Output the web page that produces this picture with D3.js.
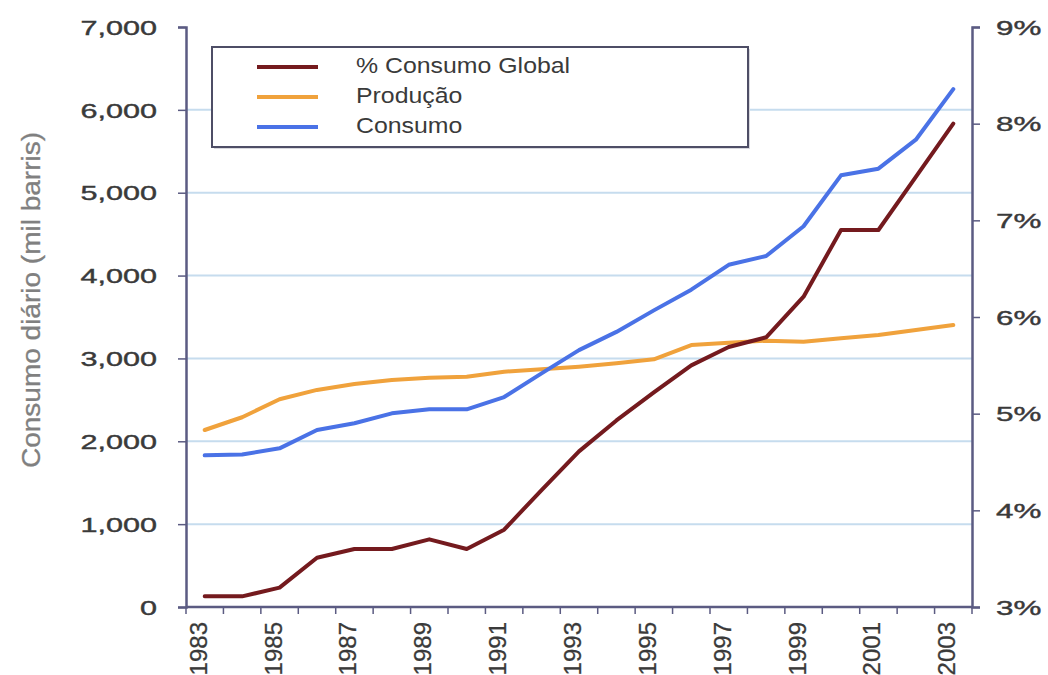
<!DOCTYPE html>
<html>
<head>
<meta charset="utf-8">
<script src="https://cdn.jsdelivr.net/npm/d3@7"></script>
<style>
  html, body { margin: 0; padding: 0; background: #fff; }
  svg { display: block; font-family: "Liberation Sans", Arial, sans-serif; }
</style>
</head>
<body>
<svg id="chart" width="1048" height="675"></svg>
<script>
// Years on the category axis
const years = [1983, 1984, 1985, 1986, 1987, 1988, 1989, 1990, 1991, 1992, 1993,
               1994, 1995, 1996, 1997, 1998, 1999, 2000, 2001, 2002, 2003];

// Daily consumption and production (thousand barrels), left axis
const consumo = [1830, 1840, 1915, 2136, 2217, 2337, 2386, 2386, 2534, 2820, 3100,
                 3320, 3580, 3830, 4130, 4236, 4595, 5210, 5290, 5640, 6250];
const producao = [2136, 2290, 2507, 2620, 2691, 2740, 2767, 2780, 2840, 2869, 2900,
                  2941, 2990, 3162, 3190, 3214, 3202, 3243, 3283, 3343, 3403];

// Share of world consumption (%), right axis
const pctGlobal = [3.11, 3.11, 3.20, 3.51, 3.60, 3.60, 3.70, 3.60, 3.80, 4.21, 4.61,
                   4.93, 5.22, 5.50, 5.69, 5.79, 6.21, 6.90, 6.90, 7.45, 8.00];

// Axis ticks
const leftTicks = [0, 1000, 2000, 3000, 4000, 5000, 6000, 7000];
const rightTicks = [3, 4, 5, 6, 7, 8, 9];
const yearLabels = years.filter(y => y % 2 === 1);

const seriesNames = ["% Consumo Global", "Produção", "Consumo"];
const seriesColors = ["#741a1e", "#f0a23c", "#4a72e6"];

const svg = d3.select("#chart");
const plot = { left: 186, right: 972, top: 27, bottom: 607 };

const x = d3.scaleBand().domain(years).range([plot.left, plot.right]).padding(0);
const yL = d3.scaleLinear().domain([0, 7000]).range([plot.bottom, plot.top]);
const yR = d3.scaleLinear().domain([3, 9]).range([plot.bottom, plot.top]);
const cx = d => x(d) + x.bandwidth() / 2;

const axisColor = "#5b5b82";
const textColor = "#3a3a3a";

// Horizontal gridlines
svg.append("g")
  .selectAll("line")
  .data(leftTicks.filter(t => t > 0 && t < 7000))
  .join("line")
  .attr("x1", plot.left).attr("x2", plot.right)
  .attr("y1", d => yL(d)).attr("y2", d => yL(d))
  .attr("stroke", "#c6dcee").attr("stroke-width", 2);

// Left axis
const gL = svg.append("g").attr("transform", `translate(${plot.left},0)`)
  .call(d3.axisLeft(yL).tickValues(leftTicks).tickSize(8).tickFormat(d3.format(",")));
gL.select(".domain").attr("stroke", axisColor).attr("stroke-width", 2.5);
gL.selectAll(".tick line").attr("stroke", axisColor).attr("stroke-width", 1.5);
gL.selectAll(".tick text")
  .attr("x", 0).attr("dy", "0.36em")
  .attr("font-size", 20).attr("fill", textColor)
  .attr("stroke", textColor).attr("stroke-width", 0.4)
  .attr("text-anchor", "end")
  .attr("transform", "translate(-29,0) scale(1.53,1)");

// Right axis
const gR = svg.append("g").attr("transform", `translate(${plot.right},0)`)
  .call(d3.axisRight(yR).tickValues(rightTicks).tickSize(8).tickFormat(d => d + "%"));
gR.select(".domain").attr("stroke", axisColor).attr("stroke-width", 2.5);
gR.selectAll(".tick line").attr("stroke", axisColor).attr("stroke-width", 1.5);
gR.selectAll(".tick text")
  .attr("x", 0).attr("dy", "0.36em")
  .attr("font-size", 20).attr("fill", textColor)
  .attr("stroke", textColor).attr("stroke-width", 0.4)
  .attr("text-anchor", "start")
  .attr("transform", "translate(24,0) scale(1.57,1)");

// Bottom axis: tick marks at category boundaries, labels every other year
const gB = svg.append("g").attr("transform", `translate(0,${plot.bottom})`);
gB.append("line")
  .attr("x1", plot.left).attr("x2", plot.right)
  .attr("stroke", axisColor).attr("stroke-width", 2.5);
gB.selectAll("line.tick")
  .data(years.map(d => x(d)).concat([plot.right]))
  .join("line").attr("class", "tick")
  .attr("x1", d => d).attr("x2", d => d)
  .attr("y1", 0).attr("y2", 7)
  .attr("stroke", axisColor).attr("stroke-width", 1.5);
gB.selectAll("text")
  .data(yearLabels)
  .join("text")
  .attr("transform", d => `translate(${cx(d) + 2},15) rotate(-90)`)
  .attr("text-anchor", "end")
  .attr("font-size", 24)
  .attr("fill", textColor)
  .attr("stroke", textColor).attr("stroke-width", 0.3)
  .text(d => d);

// Y axis title
svg.append("text")
  .attr("transform", "translate(40,300) rotate(-90)")
  .attr("text-anchor", "middle")
  .attr("font-size", 25)
  .attr("fill", "#808080")
  .attr("stroke", "#808080").attr("stroke-width", 0.3)
  .attr("textLength", 336)
  .attr("lengthAdjust", "spacingAndGlyphs")
  .text("Consumo diário (mil barris)");

// Series lines
const lineL = d3.line().x((d, i) => cx(years[i])).y(d => yL(d));
const lineR = d3.line().x((d, i) => cx(years[i])).y(d => yR(d));

svg.append("path").datum(producao).attr("d", lineL)
  .attr("fill", "none").attr("stroke", seriesColors[1]).attr("stroke-width", 4)
  .attr("stroke-linejoin", "round").attr("stroke-linecap", "round");
svg.append("path").datum(consumo).attr("d", lineL)
  .attr("fill", "none").attr("stroke", seriesColors[2]).attr("stroke-width", 4)
  .attr("stroke-linejoin", "round").attr("stroke-linecap", "round");
svg.append("path").datum(pctGlobal).attr("d", lineR)
  .attr("fill", "none").attr("stroke", seriesColors[0]).attr("stroke-width", 4)
  .attr("stroke-linejoin", "round").attr("stroke-linecap", "round");

// Legend
const lg = svg.append("g");
lg.append("rect")
  .attr("x", 214).attr("y", 49).attr("width", 536).attr("height", 100)
  .attr("fill", "#d8d8de");
lg.append("rect")
  .attr("x", 212).attr("y", 47).attr("width", 536).attr("height", 100)
  .attr("fill", "#fff").attr("stroke", "#4e4e66").attr("stroke-width", 2);
const rows = lg.selectAll("g.row")
  .data(seriesNames)
  .join("g").attr("class", "row")
  .attr("transform", (d, i) => `translate(0,${73 + i * 30})`);
rows.append("line")
  .attr("x1", 257).attr("x2", 318).attr("y1", -6).attr("y2", -6)
  .attr("stroke", (d, i) => seriesColors[i]).attr("stroke-width", 4);
rows.append("text")
  .attr("x", 0)
  .attr("transform", "translate(356,0) scale(1.13,1)")
  .attr("font-size", 22)
  .attr("fill", textColor)
  .text(d => d);
</script>
</body>
</html>
